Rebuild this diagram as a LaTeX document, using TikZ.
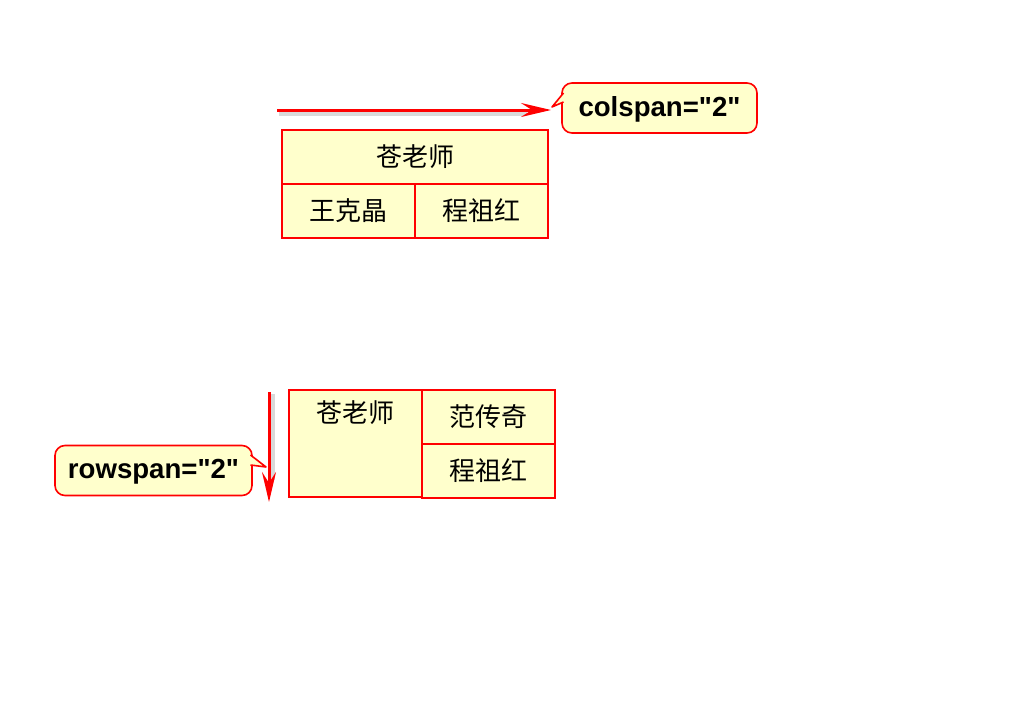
\documentclass[tikz,border=0pt]{standalone}
\usepackage{fontspec}
\setmainfont{Liberation Sans}[Ligatures=TeXOff]
\newfontfamily\cjk{Noto Sans CJK SC}
\usetikzlibrary{arrows.meta,positioning}
\definecolor{cellyellow}{HTML}{FFFFCC}
\definecolor{linered}{HTML}{FF0000}

\begin{document}
\begin{tikzpicture}[x=0.5pt, y=-0.5pt,
    cjktext/.style={inner sep=0pt, font=\cjk\fontsize{13}{15}\selectfont},
    cell/.style={cjktext, draw=linered, fill=cellyellow, line width=1pt,
      minimum width=66.5pt, minimum height=27pt},
    tag/.style={draw=linered, fill=cellyellow, line width=0.8pt,
      rounded corners=5pt, inner sep=0pt, minimum height=25pt,
      font=\bfseries\fontsize{13.8}{16}\selectfont},
    pointer/.style={linered, line width=1.5pt,
      -{Stealth[length=15pt, width=7pt, inset=5.5pt]}},
    shadowline/.style={black, opacity=0.15, line width=2.5pt}]
  \useasboundingbox (0,0) rectangle (1024,728);

  % colspan table
  \node[cell, minimum width=133pt] (cang) at (415,157) {苍老师};
  \node[cell] (wang) at (348.5,211) {王克晶};
  \node[cell] (cheng) at (481.5,211) {程祖红};

  % colspan arrow
  \coordinate (colstart) at (277,110);
  \coordinate (colend) at (551,110);
  \draw[shadowline] ([shift={(2,3)}]colstart) -- ([shift={(-24,3)}]colend);
  \draw[pointer] (colstart) -- (colend);

  % colspan callout
  \node[tag, minimum width=97.5pt, text depth=2pt] (colspan) at (659.5,108) {colspan="2"};
  \coordinate (colspantip) at (552,107);
  \coordinate (cpa) at (563.5,93);
  \coordinate (cpb) at (563.5,102);
  \fill[cellyellow] (cpa) -- (colspantip) -- (cpb) -- cycle;
  \draw[linered, line width=0.8pt, line join=round] (cpa) -- (colspantip) -- (cpb);

  % rowspan table
  \node[cell, minimum height=53.5pt] (cang2) at (355.5,443.5) {};
  \node[cjktext, below=5.5pt of cang2.north] (cangtext) {苍老师};
  \node[cell] (fan) at (488.5,416.5) {范传奇};
  \node[cell] (cheng2) at (488.5,470.5) {程祖红};

  % rowspan arrow
  \coordinate (rowstart) at (269,392);
  \coordinate (rowend) at (269,502);
  \draw[shadowline] ([shift={(3,2)}]rowstart) -- ([shift={(3,-22)}]rowend);
  \draw[pointer] (rowstart) -- (rowend);

  % rowspan callout
  \node[tag, minimum width=98.5pt, text depth=2pt] (rowspan) at (153.5,470.5) {rowspan="2"};
  \coordinate (rowspantip) at (266,467);
  \coordinate (rpa) at (250.5,455);
  \coordinate (rpb) at (250.5,465);
  \fill[cellyellow] (rpa) -- (rowspantip) -- (rpb) -- cycle;
  \draw[linered, line width=0.8pt, line join=round] (rpa) -- (rowspantip) -- (rpb);
\end{tikzpicture}
\end{document}
